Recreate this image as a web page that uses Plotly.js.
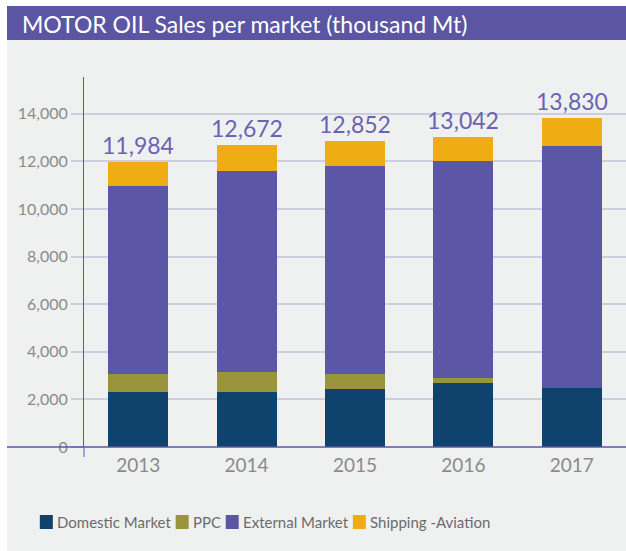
<!DOCTYPE html>
<html>
<head>
<meta charset="utf-8">
<script src="https://cdn.plot.ly/plotly-3.0.1.min.js"></script>
<style>
  html, body { margin: 0; padding: 0; background: #ffffff; }
  #chart { width: 626px; height: 551px; }
</style>
</head>
<body>
<div id="chart"></div>
<script>
// Sales per market, thousand Mt
const years = ['2013', '2014', '2015', '2016', '2017'];
const domestic = [2310, 2310, 2440, 2690, 2480];
const ppc = [760, 840, 630, 210, 0];
const external = [7900, 8450, 8740, 9120, 10170];
const shipping = [1014, 1072, 1042, 1022, 1180];
const yTicks = [0, 2000, 4000, 6000, 8000, 10000, 12000, 14000];

const totals = years.map((_, i) => domestic[i] + ppc[i] + external[i] + shipping[i]);

const font = 'Lato, sans-serif';
const purple = '#5b56a5';
const gridColor = '#cfcee0';

const series = [
    { name: 'Domestic Market', y: domestic, color: '#0f426c' },
    { name: 'PPC', y: ppc, color: '#9a943c' },
    { name: 'External Market', y: external, color: '#5b57a6' },
    { name: 'Shipping -Aviation', y: shipping, color: '#efad14' }
];

const traces = series.map(s => ({
    type: 'bar',
    name: s.name,
    x: years,
    y: s.y,
    marker: { color: s.color, line: { width: 0 } },
    hoverinfo: 'name+y'
}));

// hand-built legend: tight swatch/label spacing like the original, centred around x=265
const toPx = (px) => (px - 84) / 542;
const toPy = (py) => (447 - py) / 370;
const legendFont = 15;
const ctx = document.createElement('canvas').getContext('2d');
ctx.font = legendFont + 'px Lato';
const labelW = series.map(s => ctx.measureText(s.name).width);
const swatch = 13, swGap = 4, itemGap = 5;
const legendW = labelW.reduce((a, w) => a + swatch + swGap + w, 0) + itemGap * (series.length - 1);
const legendY = 522;
let cursor = 265 - legendW / 2;
const legendShapes = [];
const legendLabels = [];
series.forEach((s, i) => {
    legendShapes.push({
        type: 'rect', xref: 'paper', yref: 'paper',
        x0: toPx(cursor), x1: toPx(cursor + swatch),
        y0: toPy(legendY + 7), y1: toPy(legendY - 7),
        fillcolor: s.color, line: { width: 0 }
    });
    legendLabels.push({
        xref: 'paper', yref: 'paper',
        x: toPx(cursor + swatch + swGap), y: toPy(legendY),
        xanchor: 'left', yanchor: 'middle', xshift: -2,
        text: s.name, showarrow: false,
        font: { family: font, size: legendFont, color: '#6b6b6b' }
    });
    cursor += swatch + swGap + labelW[i] + itemGap;
});

Plotly.newPlot('chart', traces, {
    width: 626,
    height: 551,
    margin: { l: 84, r: 0, t: 77, b: 104 },
    paper_bgcolor: '#ffffff',
    plot_bgcolor: 'rgba(0,0,0,0)',
    font: { family: font, color: '#7a7a7a' },
    barmode: 'stack',
    bargap: 0.446,
    showlegend: false,
    title: {
        text: 'MOTOR OIL Sales per market (thousand Mt)',
        font: { family: font, size: 23, color: '#ffffff' },
        xref: 'container', x: 22 / 626, xanchor: 'left',
        yref: 'container', y: 1 - 25 / 551, yanchor: 'middle'
    },
    xaxis: {
        type: 'category',
        range: [-0.5, 4.5],
        showline: false,
        showgrid: false,
        zeroline: false,
        ticks: '',
        ticklabelstandoff: 5,
        tickfont: { family: font, size: 19, color: '#8a8a8a' }
    },
    yaxis: {
        range: [0, 15550],
        tickvals: yTicks,
        tickformat: ',',
        showline: true,
        linecolor: purple,
        linewidth: 1,
        showgrid: true,
        gridcolor: gridColor,
        gridwidth: 2,
        zeroline: false,
        ticks: 'outside',
        ticklen: 12,
        tickcolor: gridColor,
        tickwidth: 2,
        tickfont: { family: font, size: 16, color: '#8a8a8a' }
    },
    annotations: years.map((yr, i) => ({
        x: i,
        y: totals[i],
        text: totals[i].toLocaleString('en-US'),
        showarrow: false,
        yanchor: 'bottom',
        yshift: 1,
        font: { family: font, size: 23, color: '#6a63b1' }
    })).concat(legendLabels),
    shapes: [
        // grey panel and purple title band
        { type: 'rect', xref: 'paper', yref: 'paper', x0: toPx(7), x1: 1, y0: toPy(551), y1: toPy(40),
          fillcolor: '#eff1f0', line: { width: 0 }, layer: 'below' },
        { type: 'rect', xref: 'paper', yref: 'paper', x0: toPx(7), x1: 1, y0: toPy(40), y1: toPy(6),
          fillcolor: '#5b55a3', line: { width: 0 }, layer: 'below' },
        // baseline across the panel and y axis running a bit below it
        { type: 'line', xref: 'paper', yref: 'paper', x0: toPx(7), x1: 1, y0: 0, y1: 0,
          line: { color: purple, width: 1.5 } },
        { type: 'line', xref: 'paper', yref: 'paper', x0: 0, x1: 0, y0: toPy(457), y1: 0,
          line: { color: purple, width: 1 } }
    ].concat(legendShapes)
}, { displayModeBar: false, responsive: false });
</script>
</body>
</html>
